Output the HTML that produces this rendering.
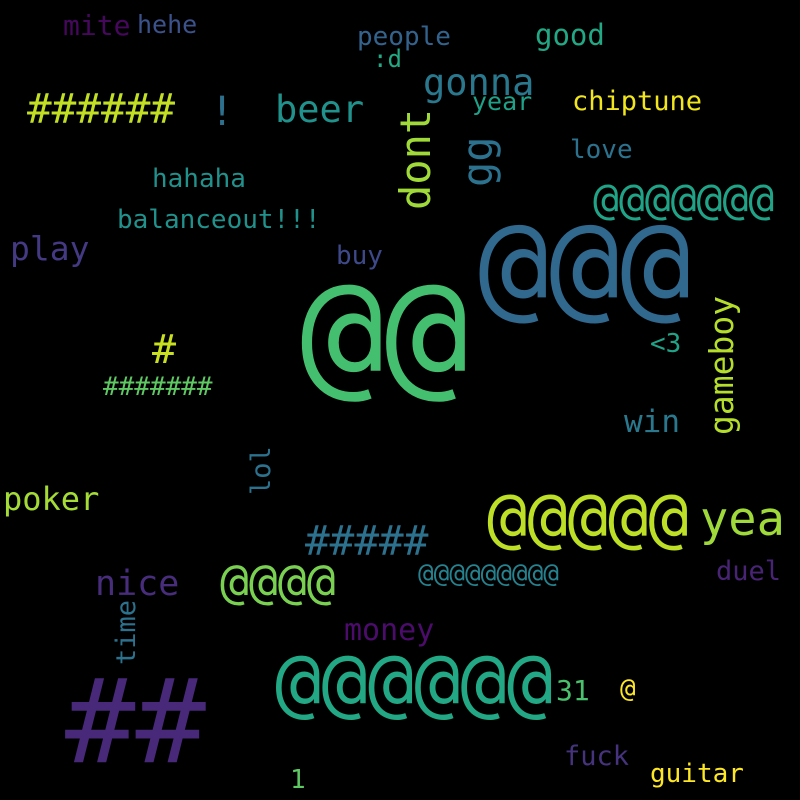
<!DOCTYPE html>
<html><head><meta charset="utf-8"><style>
html,body{margin:0;padding:0;background:#000;}
svg{display:block;}
text{font-family:"DejaVu Sans Mono","Liberation Mono",monospace;}
</style></head><body>
<svg id="cloud" width="800" height="800" viewBox="0 0 800 800">
<rect width="800" height="800" fill="#000"/>
</svg>
<script>
const words = ["@@","@@@","@@@@@@","@@@@@","@@@@@@@","@@@@","@@@@@@@@@","@","##","######","#######","#####","#","!","beer","gonna","good","people",":d","year","chiptune","love","mite","hehe","hahaha","balanceout!!!","play","buy","dont","gg","gameboy","<3","win","lol","poker","yea","nice","duel","time","money","31","fuck","guitar","1"];
const sizes = [140,118,77,67,43,48,26,26,117,41,26,41,40,40,37,37,29,26,24,25,27,26,28,25,26,26,33,26,42,42,33,26,31,27,32,47,35,27,27,30,28,27,26,26];
const colors = ["#44bf70","#31688e","#22a884","#bddf26","#20a386","#7ad151","#26828e","#fde725","#482878","#c2df23","#5ec962","#2c728e","#c8e020","#2d708e","#21918c","#2a788e","#22a884","#33638d","#23a983","#1fa187","#f1e51d","#2c728e","#46085c","#3b528b","#21918c","#21918c","#443983","#3e4989","#a0da39","#2c728e","#b5de2b","#20a386","#2a788e","#2c728e","#a5db36","#9fda3a","#472d7b","#482475","#2c728e","#4b0c6b","#4ac16d","#46337e","#fde725","#5ec962"];
const xs = [300,478,275,487,593,220,418,620,65,27,103,305,152,210,275,423,535,357,373,472,572,570,63,137,152,117,10,336,430,492,733,650,624,270,3,700,95,716,135,344,556,564,650,290];
const ys = [380,305,708,540,214,598,582,697,762,123,395,555,363,125,122,95,45,45,67,110,110,158,35,33,187,228,260,264,210,187,435,352,432,495,510,535,595,580,665,640,700,765,782,788];
const rotated = [0,0,0,0,0,0,0,0,0,0,0,0,0,0,0,0,0,0,0,0,0,0,0,0,0,0,0,0,1,1,1,0,0,1,0,0,0,0,1,0,0,0,0,0];
const svg = document.getElementById('cloud');
const NS = 'http://www.w3.org/2000/svg';
words.forEach((w, i) => {
  const t = document.createElementNS(NS, 'text');
  t.setAttribute('x', xs[i]);
  t.setAttribute('y', ys[i]);
  t.setAttribute('font-size', sizes[i]);
  t.setAttribute('fill', colors[i]);
  if (rotated[i]) t.setAttribute('transform', 'rotate(-90 ' + xs[i] + ' ' + ys[i] + ')');
  t.textContent = w;
  
  
  svg.appendChild(t);
});
</script>
</body></html>
